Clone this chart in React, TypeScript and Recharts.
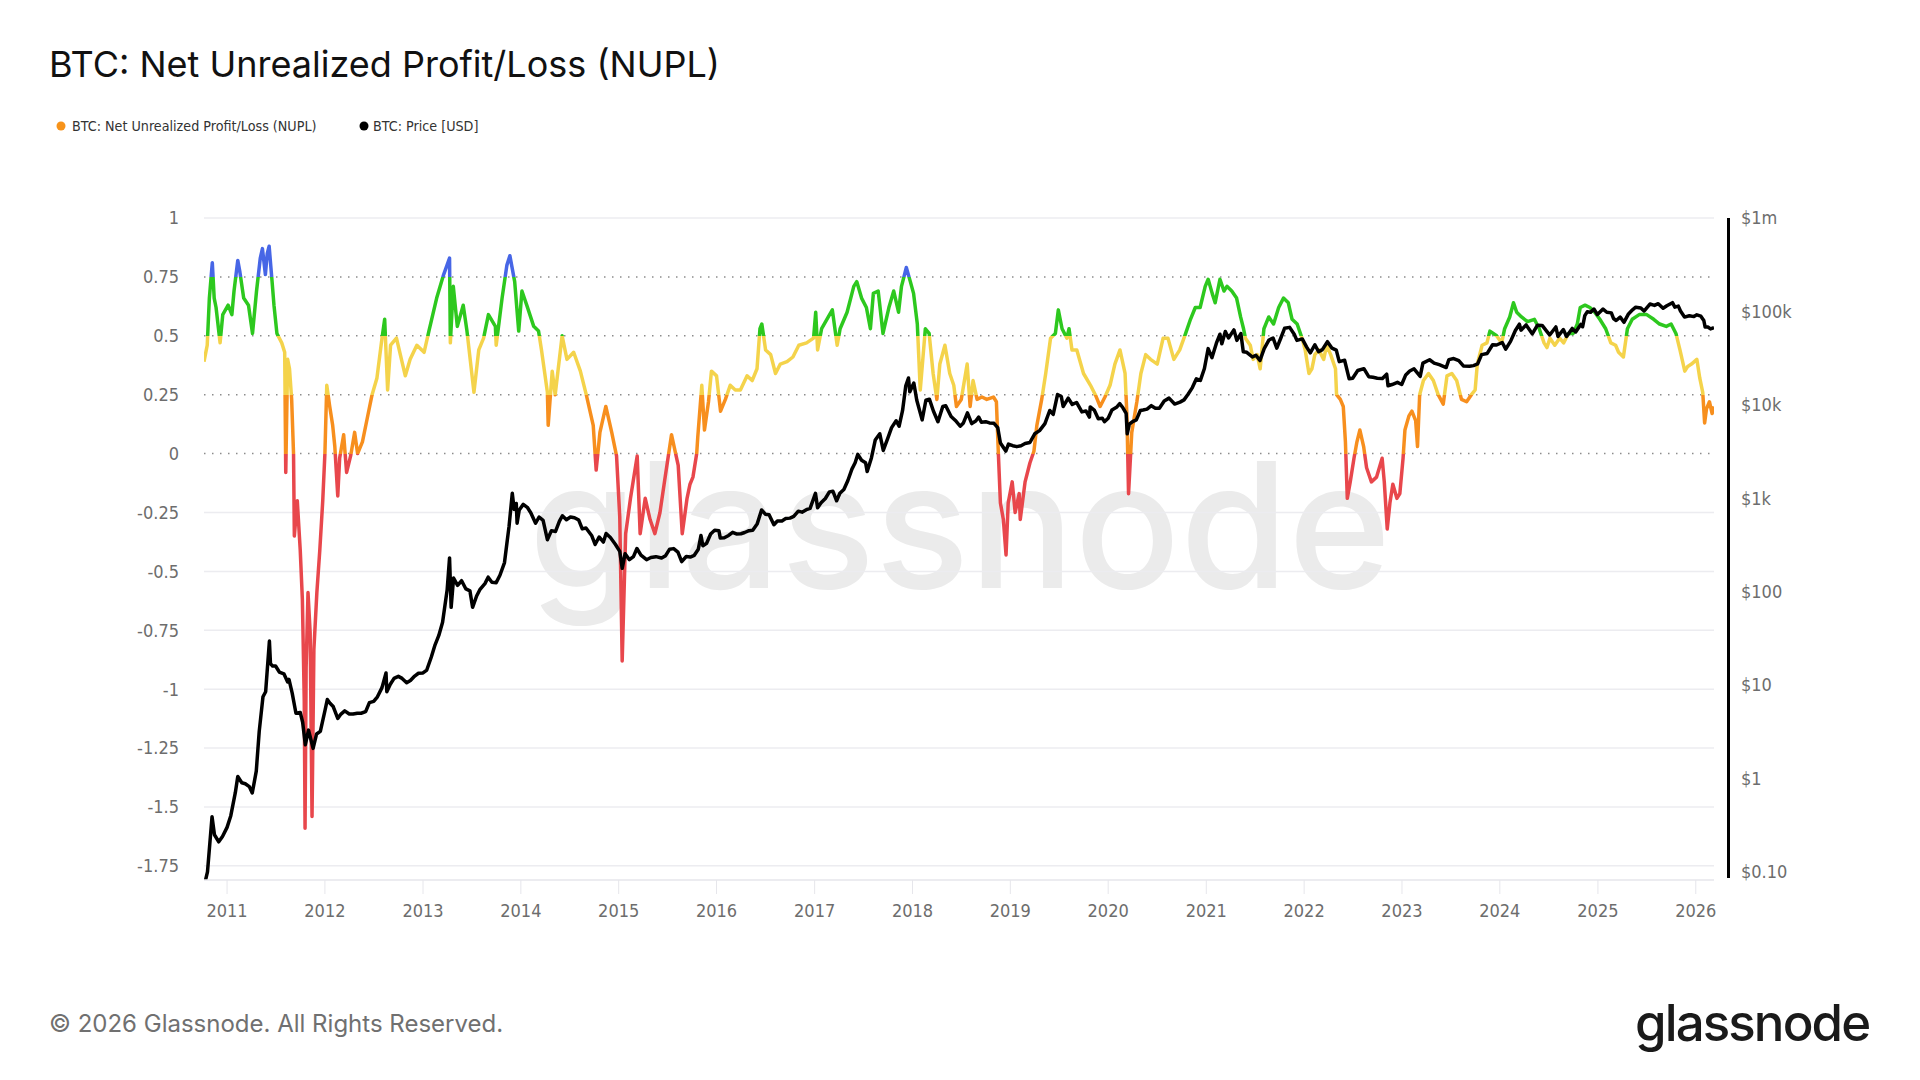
import React from "react";
import { LineChart, Line, XAxis, YAxis, ReferenceLine } from "recharts";

// Axis ticks
const yearTicks = [2011, 2012, 2013, 2014, 2015, 2016, 2017, 2018, 2019, 2020, 2021, 2022, 2023, 2024, 2025, 2026];
const nuplTicks = [1, 0.75, 0.5, 0.25, 0, -0.25, -0.5, -0.75, -1, -1.25, -1.5, -1.75];
const dottedLevels = [0.75, 0.5, 0.25, 0];
const solidLevels = [1, -0.25, -0.5, -0.75, -1, -1.25, -1.5, -1.75];
const priceTicks = [0.1, 1, 10, 100, 1000, 10000, 100000, 1000000];
const priceTickLabels = ["$0.10", "$1", "$10", "$100", "$1k", "$10k", "$100k", "$1m"];

// Zone thresholds for NUPL colouring (top to bottom)
const zoneThresholds = [0.75, 0.5, 0.25, 0];
const zoneColors = ["#4766e6", "#2dc81e", "#f4d34b", "#f78f1e", "#e8474c"];

// NUPL: [date, value]
const nuplSeries: [string, number][] = [
  ["2010-10-07", 0.39], ["2010-10-19", 0.46], ["2010-10-27", 0.66], ["2010-11-07", 0.81], ["2010-11-14", 0.66],
  ["2010-11-21", 0.62], ["2010-12-06", 0.47], ["2010-12-16", 0.59], ["2011-01-05", 0.63], ["2011-01-19", 0.59],
  ["2011-01-27", 0.69], ["2011-02-10", 0.82], ["2011-02-18", 0.77], ["2011-03-04", 0.66], ["2011-03-22", 0.63],
  ["2011-04-06", 0.51], ["2011-04-21", 0.69], ["2011-05-05", 0.83], ["2011-05-13", 0.87], ["2011-05-24", 0.76],
  ["2011-05-31", 0.85], ["2011-06-07", 0.88], ["2011-06-18", 0.73], ["2011-06-25", 0.63], ["2011-07-06", 0.51],
  ["2011-07-24", 0.47], ["2011-08-04", 0.43], ["2011-08-08", -0.08], ["2011-08-15", 0.4], ["2011-08-22", 0.36],
  ["2011-08-30", 0.23], ["2011-09-06", 0.0], ["2011-09-09", -0.35], ["2011-09-20", -0.2], ["2011-10-01", -0.41],
  ["2011-10-09", -0.62], ["2011-10-16", -1.05], ["2011-10-19", -1.59], ["2011-10-23", -0.91], ["2011-10-30", -0.59],
  ["2011-11-07", -0.76], ["2011-11-14", -1.54], ["2011-11-21", -0.83], ["2011-12-02", -0.59], ["2011-12-13", -0.41],
  ["2011-12-24", -0.2], ["2012-01-01", 0.0], ["2012-01-08", 0.29], ["2012-01-19", 0.2], ["2012-01-30", 0.12],
  ["2012-02-07", 0.03], ["2012-02-18", -0.18], ["2012-02-25", -0.02], ["2012-03-11", 0.08], ["2012-03-22", -0.08],
  ["2012-04-06", -0.01], ["2012-04-21", 0.09], ["2012-05-02", 0.0], ["2012-05-20", 0.05], ["2012-06-07", 0.15],
  ["2012-06-25", 0.25], ["2012-07-13", 0.32], ["2012-08-01", 0.49], ["2012-08-11", 0.57], ["2012-08-22", 0.27],
  ["2012-09-02", 0.46], ["2012-09-24", 0.49], ["2012-10-27", 0.33], ["2012-11-14", 0.4], ["2012-12-09", 0.46],
  ["2013-01-05", 0.43], ["2013-01-23", 0.52], ["2013-02-21", 0.66], ["2013-03-19", 0.76], ["2013-04-10", 0.83],
  ["2013-04-13", 0.47], ["2013-04-24", 0.71], ["2013-05-09", 0.54], ["2013-05-31", 0.63], ["2013-06-14", 0.52],
  ["2013-07-10", 0.26], ["2013-07-28", 0.44], ["2013-08-15", 0.49], ["2013-09-02", 0.59], ["2013-09-28", 0.54],
  ["2013-10-01", 0.46], ["2013-10-23", 0.66], ["2013-11-10", 0.8], ["2013-11-21", 0.84], ["2013-12-09", 0.73],
  ["2013-12-24", 0.52], ["2014-01-05", 0.69], ["2014-01-23", 0.63], ["2014-02-18", 0.54], ["2014-03-08", 0.52],
  ["2014-03-19", 0.44], ["2014-04-10", 0.26], ["2014-04-13", 0.12], ["2014-04-28", 0.35], ["2014-05-09", 0.25],
  ["2014-06-04", 0.5], ["2014-06-22", 0.4], ["2014-07-17", 0.43], ["2014-08-11", 0.35], ["2014-09-02", 0.25],
  ["2014-09-28", 0.12], ["2014-10-09", -0.07], ["2014-10-23", 0.09], ["2014-11-14", 0.2], ["2014-12-06", 0.09],
  ["2014-12-24", -0.01], ["2015-01-05", -0.27], ["2015-01-14", -0.88], ["2015-01-27", -0.34], ["2015-02-14", -0.19],
  ["2015-03-11", -0.01], ["2015-03-22", -0.34], ["2015-04-10", -0.19], ["2015-04-28", -0.28], ["2015-05-16", -0.34],
  ["2015-06-04", -0.25], ["2015-06-22", -0.11], ["2015-07-17", 0.08], ["2015-08-11", -0.05], ["2015-08-26", -0.34],
  ["2015-09-13", -0.19], ["2015-09-24", -0.13], ["2015-10-05", -0.1], ["2015-10-19", 0.0], ["2015-10-23", 0.07],
  ["2015-11-07", 0.29], ["2015-11-17", 0.1], ["2015-12-02", 0.22], ["2015-12-13", 0.35], ["2016-01-01", 0.33],
  ["2016-01-16", 0.18], ["2016-02-03", 0.23], ["2016-02-21", 0.29], ["2016-03-11", 0.27], ["2016-03-30", 0.27],
  ["2016-04-24", 0.33], ["2016-05-13", 0.31], ["2016-05-31", 0.36], ["2016-06-11", 0.53], ["2016-06-18", 0.55],
  ["2016-07-02", 0.44], ["2016-07-21", 0.42], ["2016-08-08", 0.34], ["2016-08-26", 0.38], ["2016-09-20", 0.39],
  ["2016-10-12", 0.41], ["2016-11-03", 0.46], ["2016-12-02", 0.47], ["2016-12-28", 0.49], ["2017-01-05", 0.6],
  ["2017-01-12", 0.44], ["2017-01-27", 0.53], ["2017-02-21", 0.58], ["2017-03-08", 0.61], ["2017-03-26", 0.46],
  ["2017-04-06", 0.53], ["2017-05-02", 0.6], ["2017-05-27", 0.71], ["2017-06-07", 0.73], ["2017-06-25", 0.66],
  ["2017-07-13", 0.62], ["2017-07-28", 0.53], ["2017-08-08", 0.68], ["2017-08-26", 0.69], ["2017-09-13", 0.51],
  ["2017-10-05", 0.62], ["2017-10-23", 0.69], ["2017-11-10", 0.6], ["2017-11-21", 0.71], ["2017-12-09", 0.79],
  ["2017-12-24", 0.73], ["2018-01-05", 0.68], ["2018-01-19", 0.55], ["2018-01-30", 0.27], ["2018-02-18", 0.53],
  ["2018-03-04", 0.51], ["2018-03-19", 0.34], ["2018-04-02", 0.23], ["2018-04-13", 0.38], ["2018-05-02", 0.46],
  ["2018-05-20", 0.34], ["2018-06-04", 0.29], ["2018-06-14", 0.2], ["2018-07-02", 0.23], ["2018-07-24", 0.38],
  ["2018-08-04", 0.2], ["2018-08-15", 0.31], ["2018-08-30", 0.23], ["2018-09-17", 0.24], ["2018-10-05", 0.23],
  ["2018-10-30", 0.24], ["2018-11-10", 0.22], ["2018-11-17", 0.01], ["2018-11-25", -0.21], ["2018-12-06", -0.28],
  ["2018-12-16", -0.43], ["2018-12-24", -0.21], ["2019-01-08", -0.12], ["2019-01-19", -0.25], ["2019-02-03", -0.17],
  ["2019-02-07", -0.28], ["2019-02-25", -0.12], ["2019-03-15", -0.04], ["2019-03-30", 0.01], ["2019-04-10", 0.12],
  ["2019-04-28", 0.23], ["2019-05-13", 0.34], ["2019-05-31", 0.49], ["2019-06-18", 0.51], ["2019-06-29", 0.61],
  ["2019-07-13", 0.53], ["2019-07-31", 0.49], ["2019-08-08", 0.53], ["2019-08-19", 0.44], ["2019-09-06", 0.44],
  ["2019-10-01", 0.34], ["2019-10-27", 0.29], ["2019-11-14", 0.25], ["2019-12-02", 0.2], ["2019-12-20", 0.24],
  ["2020-01-08", 0.29], ["2020-01-26", 0.38], ["2020-02-14", 0.44], ["2020-03-04", 0.34], ["2020-03-11", 0.16],
  ["2020-03-17", -0.17], ["2020-03-29", 0.09], ["2020-04-17", 0.22], ["2020-05-02", 0.34], ["2020-05-20", 0.42],
  ["2020-06-07", 0.4], ["2020-07-02", 0.38], ["2020-07-24", 0.49], ["2020-08-11", 0.49], ["2020-09-02", 0.4],
  ["2020-09-24", 0.44], ["2020-10-16", 0.51], ["2020-11-03", 0.57], ["2020-11-21", 0.62], ["2020-12-09", 0.62],
  ["2020-12-28", 0.71], ["2021-01-08", 0.74], ["2021-01-23", 0.68], ["2021-02-03", 0.64], ["2021-02-21", 0.74],
  ["2021-03-08", 0.69], ["2021-03-19", 0.71], ["2021-04-06", 0.69], ["2021-04-24", 0.66], ["2021-05-09", 0.58],
  ["2021-05-20", 0.53], ["2021-05-27", 0.49], ["2021-06-14", 0.46], ["2021-06-25", 0.4], ["2021-07-10", 0.42],
  ["2021-07-21", 0.36], ["2021-08-04", 0.53], ["2021-08-22", 0.58], ["2021-09-09", 0.55], ["2021-09-28", 0.62],
  ["2021-10-16", 0.66], ["2021-11-03", 0.64], ["2021-11-17", 0.57], ["2021-12-06", 0.55], ["2021-12-24", 0.49],
  ["2022-01-05", 0.44], ["2022-01-19", 0.34], ["2022-01-30", 0.36], ["2022-02-10", 0.42], ["2022-02-25", 0.44],
  ["2022-03-15", 0.4], ["2022-03-26", 0.46], ["2022-04-10", 0.42], ["2022-04-28", 0.36], ["2022-05-02", 0.25],
  ["2022-05-16", 0.23], ["2022-05-27", 0.2], ["2022-06-04", 0.05], ["2022-06-11", -0.19], ["2022-06-22", -0.12],
  ["2022-07-06", -0.02], ["2022-07-17", 0.05], ["2022-07-28", 0.1], ["2022-08-11", 0.03], ["2022-08-22", -0.06],
  ["2022-09-09", -0.12], ["2022-09-28", -0.1], ["2022-10-19", -0.02], ["2022-10-27", -0.12], ["2022-11-07", -0.32],
  ["2022-11-17", -0.21], ["2022-11-28", -0.13], ["2022-12-13", -0.19], ["2022-12-24", -0.17], ["2023-01-05", -0.02],
  ["2023-01-12", 0.1], ["2023-01-27", 0.16], ["2023-02-07", 0.18], ["2023-02-21", 0.14], ["2023-02-28", 0.03],
  ["2023-03-08", 0.25], ["2023-03-22", 0.31], ["2023-04-10", 0.34], ["2023-04-28", 0.31], ["2023-05-16", 0.25],
  ["2023-06-04", 0.21], ["2023-06-18", 0.33], ["2023-07-06", 0.34], ["2023-07-24", 0.31], ["2023-08-11", 0.23],
  ["2023-08-30", 0.22], ["2023-09-17", 0.25], ["2023-10-01", 0.27], ["2023-10-09", 0.38], ["2023-10-27", 0.46],
  ["2023-11-14", 0.47], ["2023-11-25", 0.52], ["2023-12-20", 0.5], ["2024-01-08", 0.47], ["2024-01-19", 0.53],
  ["2024-02-07", 0.58], ["2024-02-21", 0.64], ["2024-03-04", 0.6], ["2024-03-22", 0.58], ["2024-04-13", 0.56],
  ["2024-05-09", 0.57], ["2024-05-27", 0.53], ["2024-06-14", 0.47], ["2024-06-25", 0.45], ["2024-07-06", 0.49],
  ["2024-07-24", 0.46], ["2024-08-11", 0.49], ["2024-08-26", 0.47], ["2024-09-13", 0.51], ["2024-10-01", 0.51],
  ["2024-10-16", 0.55], ["2024-10-27", 0.62], ["2024-11-14", 0.63], ["2024-12-02", 0.62], ["2024-12-20", 0.6],
  ["2025-01-08", 0.57], ["2025-01-30", 0.53], ["2025-02-18", 0.47], ["2025-03-08", 0.46], ["2025-03-19", 0.43],
  ["2025-04-06", 0.41], ["2025-04-21", 0.53], ["2025-05-09", 0.57], ["2025-06-04", 0.59], ["2025-07-02", 0.59],
  ["2025-07-28", 0.57], ["2025-08-19", 0.55], ["2025-09-13", 0.54], ["2025-10-01", 0.55], ["2025-10-19", 0.51],
  ["2025-11-03", 0.44], ["2025-11-21", 0.35], ["2025-12-02", 0.37], ["2025-12-16", 0.38], ["2026-01-05", 0.4],
  ["2026-01-16", 0.32], ["2026-01-27", 0.26], ["2026-02-03", 0.13], ["2026-02-10", 0.19], ["2026-02-21", 0.22],
  ["2026-03-03", 0.17], ["2026-03-10", 0.2],
];

// BTC price in USD: [date, price]
const priceSeries: [string, number][] = [
  ["2010-10-07", 0.07], ["2010-10-20", 0.1], ["2010-11-06", 0.39], ["2010-11-15", 0.25], ["2010-12-01", 0.21],
  ["2010-12-15", 0.24], ["2011-01-01", 0.3], ["2011-01-15", 0.4], ["2011-02-01", 0.71], ["2011-02-10", 1.05],
  ["2011-02-25", 0.9], ["2011-03-10", 0.88], ["2011-03-25", 0.82], ["2011-04-05", 0.7], ["2011-04-20", 1.2],
  ["2011-05-01", 3.2], ["2011-05-15", 7.5], ["2011-05-25", 8.5], ["2011-06-08", 29.6], ["2011-06-12", 17],
  ["2011-06-20", 16], ["2011-07-01", 16], ["2011-07-15", 13.8], ["2011-08-01", 13.2], ["2011-08-15", 10.8],
  ["2011-08-20", 11.5], ["2011-09-01", 8.2], ["2011-09-15", 5.0], ["2011-10-01", 5.1], ["2011-10-10", 4.0],
  ["2011-10-20", 2.3], ["2011-11-01", 3.3], ["2011-11-18", 2.1], ["2011-12-01", 3.0], ["2011-12-15", 3.2],
  ["2012-01-01", 5.3], ["2012-01-10", 7.0], ["2012-01-20", 6.4], ["2012-02-01", 5.9], ["2012-02-18", 4.4],
  ["2012-03-01", 4.9], ["2012-03-15", 5.3], ["2012-04-01", 4.9], ["2012-04-15", 4.9], ["2012-05-01", 5.0],
  ["2012-05-15", 5.0], ["2012-06-01", 5.2], ["2012-06-15", 6.5], ["2012-07-01", 6.7], ["2012-07-15", 7.5],
  ["2012-08-01", 9.4], ["2012-08-16", 13.5], ["2012-08-19", 8.5], ["2012-09-01", 10.2], ["2012-09-15", 11.8],
  ["2012-10-01", 12.4], ["2012-10-15", 11.8], ["2012-11-01", 10.6], ["2012-11-15", 11.2], ["2012-12-01", 12.5],
  ["2012-12-15", 13.4], ["2013-01-01", 13.5], ["2013-01-15", 14.5], ["2013-02-01", 20], ["2013-02-15", 27],
  ["2013-03-01", 34], ["2013-03-15", 47], ["2013-04-01", 104], ["2013-04-10", 230], ["2013-04-16", 68],
  ["2013-04-25", 140], ["2013-05-10", 117], ["2013-05-25", 131], ["2013-06-10", 107], ["2013-06-25", 102],
  ["2013-07-05", 68], ["2013-07-20", 90], ["2013-08-01", 105], ["2013-08-20", 122], ["2013-09-01", 143],
  ["2013-09-15", 126], ["2013-10-01", 125], ["2013-10-15", 150], ["2013-11-01", 205], ["2013-11-10", 330],
  ["2013-11-18", 500], ["2013-11-30", 1130], ["2013-12-07", 760], ["2013-12-15", 880], ["2013-12-18", 540],
  ["2013-12-26", 750], ["2014-01-10", 860], ["2014-01-25", 800], ["2014-02-07", 700], ["2014-02-25", 540],
  ["2014-03-10", 630], ["2014-03-25", 580], ["2014-04-10", 360], ["2014-04-25", 450], ["2014-05-10", 440],
  ["2014-05-25", 570], ["2014-06-05", 650], ["2014-06-20", 590], ["2014-07-05", 630], ["2014-07-20", 620],
  ["2014-08-05", 585], ["2014-08-18", 470], ["2014-09-01", 480], ["2014-09-22", 400], ["2014-10-05", 320],
  ["2014-10-20", 385], ["2014-11-05", 340], ["2014-11-15", 420], ["2014-12-01", 380], ["2014-12-20", 320],
  ["2015-01-05", 270], ["2015-01-14", 178], ["2015-01-25", 255], ["2015-02-10", 220], ["2015-02-25", 237],
  ["2015-03-10", 290], ["2015-03-25", 246], ["2015-04-15", 220], ["2015-05-01", 232], ["2015-05-20", 237],
  ["2015-06-10", 229], ["2015-06-25", 243], ["2015-07-10", 285], ["2015-07-25", 289], ["2015-08-10", 265],
  ["2015-08-24", 210], ["2015-09-10", 238], ["2015-09-25", 235], ["2015-10-10", 245], ["2015-10-25", 285],
  ["2015-11-04", 400], ["2015-11-11", 310], ["2015-11-25", 330], ["2015-12-10", 415], ["2015-12-25", 455],
  ["2016-01-10", 448], ["2016-01-15", 375], ["2016-01-30", 378], ["2016-02-15", 400], ["2016-03-01", 432],
  ["2016-03-15", 415], ["2016-04-01", 417], ["2016-04-15", 430], ["2016-05-01", 450], ["2016-05-15", 455],
  ["2016-06-01", 535], ["2016-06-17", 750], ["2016-07-01", 675], ["2016-07-15", 665], ["2016-08-02", 520],
  ["2016-08-15", 570], ["2016-09-01", 572], ["2016-09-15", 606], ["2016-10-01", 613], ["2016-10-15", 640],
  ["2016-11-01", 728], ["2016-11-15", 710], ["2016-12-01", 755], ["2016-12-15", 780], ["2017-01-04", 1130],
  ["2017-01-12", 790], ["2017-01-25", 895], ["2017-02-10", 995], ["2017-02-25", 1170], ["2017-03-10", 1190],
  ["2017-03-24", 940], ["2017-04-05", 1130], ["2017-04-20", 1240], ["2017-05-05", 1550], ["2017-05-20", 2050],
  ["2017-06-01", 2400], ["2017-06-11", 2950], ["2017-06-25", 2550], ["2017-07-10", 2400], ["2017-07-16", 1930],
  ["2017-08-01", 2720], ["2017-08-15", 4200], ["2017-09-01", 4900], ["2017-09-14", 3250], ["2017-10-01", 4400],
  ["2017-10-15", 5700], ["2017-11-01", 6750], ["2017-11-12", 5900], ["2017-11-25", 8700], ["2017-12-07", 16000],
  ["2017-12-17", 19400], ["2017-12-22", 13800], ["2018-01-06", 17100], ["2018-01-17", 11200], ["2018-02-06", 6900],
  ["2018-02-20", 11200], ["2018-03-05", 11500], ["2018-03-20", 8600], ["2018-04-06", 6600], ["2018-04-24", 9600],
  ["2018-05-05", 9800], ["2018-05-25", 7500], ["2018-06-10", 6800], ["2018-06-28", 5900], ["2018-07-10", 6400],
  ["2018-07-25", 8200], ["2018-08-10", 6300], ["2018-08-25", 6700], ["2018-09-05", 7400], ["2018-09-15", 6500],
  ["2018-10-01", 6600], ["2018-10-15", 6400], ["2018-11-01", 6350], ["2018-11-15", 5700], ["2018-11-25", 3900],
  ["2018-12-15", 3200], ["2018-12-25", 3800], ["2019-01-10", 3650], ["2019-01-25", 3570], ["2019-02-10", 3650],
  ["2019-02-25", 3850], ["2019-03-15", 3950], ["2019-04-02", 4900], ["2019-04-20", 5300], ["2019-05-10", 6300],
  ["2019-05-28", 8700], ["2019-06-10", 7900], ["2019-06-26", 12900], ["2019-07-10", 12300], ["2019-07-17", 9600],
  ["2019-08-05", 11800], ["2019-08-20", 10100], ["2019-09-05", 10600], ["2019-09-25", 8400], ["2019-10-10", 8600],
  ["2019-10-23", 7400], ["2019-10-26", 9500], ["2019-11-10", 8800], ["2019-11-25", 7100], ["2019-12-10", 7200],
  ["2019-12-18", 6600], ["2020-01-01", 7200], ["2020-01-15", 8800], ["2020-02-01", 9400], ["2020-02-13", 10300],
  ["2020-02-25", 9300], ["2020-03-08", 8100], ["2020-03-12", 4900], ["2020-03-20", 6200], ["2020-04-01", 6600],
  ["2020-04-15", 6900], ["2020-04-30", 8700], ["2020-05-10", 8800], ["2020-05-25", 9000], ["2020-06-10", 9800],
  ["2020-06-25", 9200], ["2020-07-10", 9200], ["2020-07-28", 11000], ["2020-08-15", 11800], ["2020-09-05", 10200],
  ["2020-09-25", 10700], ["2020-10-10", 11300], ["2020-10-25", 13000], ["2020-11-10", 15300], ["2020-11-25", 19000],
  ["2020-12-10", 18300], ["2020-12-25", 24500], ["2021-01-08", 40000], ["2021-01-22", 32000], ["2021-02-08", 46000],
  ["2021-02-21", 57000], ["2021-02-28", 45000], ["2021-03-13", 61000], ["2021-03-25", 52000], ["2021-04-14", 63500],
  ["2021-04-25", 49000], ["2021-05-10", 58000], ["2021-05-19", 37000], ["2021-06-01", 36500], ["2021-06-22", 32500],
  ["2021-07-05", 34000], ["2021-07-20", 29800], ["2021-08-05", 40000], ["2021-08-23", 49500], ["2021-09-07", 52000],
  ["2021-09-21", 40500], ["2021-10-05", 51000], ["2021-10-20", 66000], ["2021-11-08", 67500], ["2021-11-25", 57000],
  ["2021-12-05", 49000], ["2021-12-25", 50800], ["2022-01-10", 41800], ["2022-01-24", 36000], ["2022-02-10", 44000],
  ["2022-02-24", 37000], ["2022-03-10", 39000], ["2022-03-29", 47400], ["2022-04-15", 40400], ["2022-05-01", 38500],
  ["2022-05-12", 29000], ["2022-06-01", 30000], ["2022-06-18", 19000], ["2022-07-01", 19300], ["2022-07-20", 23300],
  ["2022-08-12", 24400], ["2022-08-30", 20000], ["2022-09-15", 19700], ["2022-10-01", 19300], ["2022-10-20", 19100],
  ["2022-11-05", 21300], ["2022-11-10", 16000], ["2022-11-25", 16500], ["2022-12-15", 17400], ["2022-12-31", 16500],
  ["2023-01-15", 20900], ["2023-01-30", 23000], ["2023-02-15", 24300], ["2023-03-10", 20200], ["2023-03-20", 28000],
  ["2023-04-14", 30400], ["2023-05-01", 28000], ["2023-05-20", 26900], ["2023-06-15", 25100], ["2023-06-25", 30500],
  ["2023-07-13", 31300], ["2023-08-01", 29700], ["2023-08-18", 26100], ["2023-09-10", 25900], ["2023-09-25", 26300],
  ["2023-10-10", 27400], ["2023-10-25", 34500], ["2023-11-15", 35500], ["2023-12-05", 44000], ["2023-12-20", 43700],
  ["2024-01-10", 46500], ["2024-01-23", 39500], ["2024-02-10", 47800], ["2024-02-28", 62500], ["2024-03-14", 73000],
  ["2024-03-20", 63000], ["2024-04-08", 71600], ["2024-04-20", 64000], ["2024-05-01", 57500], ["2024-05-20", 71000],
  ["2024-06-07", 70800], ["2024-06-25", 60800], ["2024-07-05", 56000], ["2024-07-28", 68200], ["2024-08-05", 54000],
  ["2024-08-25", 64000], ["2024-09-06", 54000], ["2024-09-27", 65800], ["2024-10-10", 60300], ["2024-10-29", 72500],
  ["2024-11-05", 68500], ["2024-11-13", 90000], ["2024-11-22", 99000], ["2024-12-05", 98000], ["2024-12-17", 106000],
  ["2024-12-30", 92500], ["2025-01-20", 106000], ["2025-02-03", 98000], ["2025-02-20", 96500], ["2025-02-28", 84000],
  ["2025-03-10", 80000], ["2025-03-25", 87000], ["2025-04-08", 76500], ["2025-04-25", 94000], ["2025-05-10", 104000],
  ["2025-05-22", 111000], ["2025-06-10", 109000], ["2025-06-22", 101000], ["2025-07-14", 120000], ["2025-07-31", 116000],
  ["2025-08-14", 121000], ["2025-09-01", 108000], ["2025-09-15", 115000], ["2025-10-06", 124000], ["2025-10-15", 111000],
  ["2025-10-28", 114000], ["2025-11-05", 101000], ["2025-11-20", 87000], ["2025-12-08", 90000], ["2025-12-25", 88000],
  ["2026-01-05", 92000], ["2026-01-20", 89000], ["2026-01-31", 80000], ["2026-02-05", 68000], ["2026-02-15", 68000],
  ["2026-02-25", 65000], ["2026-03-10", 67000],
];

const toTime = (d: string) => Date.parse(d + "T00:00:00Z");

const nuplData = nuplSeries.map(([d, v]) => ({ t: toTime(d), v }));
const priceData = priceSeries.map(([d, v]) => ({ t: toTime(d), v }));
const xDomain: [number, number] = [nuplData[0].t, nuplData[nuplData.length - 1].t];
const xTicks = yearTicks.map((y) => Date.UTC(y, 0, 1));

// Gradient stops for the NUPL stroke, placed by value within the line's bounding box
const nuplMax = Math.max(...nuplSeries.map((p) => p[1]));
const nuplMin = Math.min(...nuplSeries.map((p) => p[1]));
const offsetOf = (v: number) => Math.min(1, Math.max(0, (nuplMax - v) / (nuplMax - nuplMin)));
const zoneStops: { offset: number; color: string }[] = [];
zoneColors.forEach((color, i) => {
  const start = i === 0 ? 0 : offsetOf(zoneThresholds[i - 1]);
  const end = i === zoneColors.length - 1 ? 1 : offsetOf(zoneThresholds[i]);
  zoneStops.push({ offset: start, color }, { offset: end, color });
});

const narrowFont = '"Liberation Sans Narrow", "DejaVu Sans Condensed", "Open Sans", sans-serif';
const tickStyle = { fill: "#6d6d6d", fontSize: 18, fontFamily: narrowFont };

const formatPrice = (v: number) => {
  const i = priceTicks.findIndex((p) => Math.abs(p - v) / p < 1e-6);
  return i >= 0 ? priceTickLabels[i] : "";
};

export default function App() {
  return (
    <div style={{ position: "absolute", left: 0, top: 0, width: 1920, height: 1080, background: "#ffffff", overflow: "hidden" }}>
      <svg width={1920} height={1080} style={{ position: "absolute", left: 0, top: 0 }}>
        <defs>
          <linearGradient id="nuplZones" x1="0" y1="0" x2="0" y2="1">
            {zoneStops.map((s, i) => (
              <stop key={i} offset={s.offset} stopColor={s.color} />
            ))}
          </linearGradient>
        </defs>
        <text x={49} y={77} fontFamily="Inter, sans-serif" fontSize={36} fill="#111111">
          BTC: Net Unrealized Profit/Loss (NUPL)
        </text>
        <circle cx={61} cy={126} r={4.5} fill="#f7931a" />
        <text x={72} y={131} fontFamily={narrowFont} fontSize={14.2} fill="#333333">
          BTC: Net Unrealized Profit/Loss (NUPL)
        </text>
        <circle cx={364} cy={126} r={4.5} fill="#000000" />
        <text x={373} y={131} fontFamily={narrowFont} fontSize={14.2} fill="#333333">
          BTC: Price [USD]
        </text>
        <text x={960} y={588} textAnchor="middle" fontFamily="Inter, sans-serif" fontWeight={500} fontSize={175} fill="#ebebeb">
          glassnode
        </text>
        <text x={49} y={1032} fontFamily="Inter, sans-serif" fontSize={24} fill="#707070">
          © 2026 Glassnode. All Rights Reserved.
        </text>
        <text x={1635} y={1041} fontFamily="Inter, sans-serif" fontWeight={500} fontSize={51} fill="#1a1a1a" letterSpacing={-1.9}>
          glassnode
        </text>
      </svg>
      <div style={{ position: "absolute", left: 0, top: 0 }}>
        <LineChart width={1920} height={1080} margin={{ top: 218, right: 106, bottom: 160, left: 124 }}>
          <XAxis
            dataKey="t"
            type="number"
            domain={xDomain}
            ticks={xTicks}
            allowDataOverflow
            tickFormatter={(t: number) => String(new Date(t).getUTCFullYear())}
            height={40}
            axisLine={{ stroke: "#e6e6eb", strokeWidth: 1.5 }}
            tickLine={{ stroke: "#e6e6eb" }}
            tickSize={14}
            tickMargin={10}
            tick={tickStyle}
          />
          <YAxis
            yAxisId="nupl"
            orientation="left"
            domain={[-1.81, 1]}
            ticks={nuplTicks}
            allowDataOverflow
            width={80}
            axisLine={false}
            tickLine={false}
            tickSize={0}
            tickMargin={25}
            tick={tickStyle}
          />
          <YAxis
            yAxisId="price"
            orientation="right"
            scale="log"
            domain={[0.082, 1000000]}
            ticks={priceTicks}
            allowDataOverflow
            width={100}
            axisLine={false}
            tickLine={false}
            tickSize={0}
            tickMargin={27}
            tickFormatter={formatPrice}
            tick={tickStyle}
          />
          {solidLevels.map((v) => (
            <ReferenceLine key={"s" + v} yAxisId="nupl" y={v} stroke="#ececf0" strokeWidth={1.5} />
          ))}
          {dottedLevels.map((v) => (
            <ReferenceLine key={"d" + v} yAxisId="nupl" y={v} stroke="#8c8c8c" strokeWidth={1.5} strokeDasharray="1.5 6.5" />
          ))}
          <Line
            data={nuplData}
            yAxisId="nupl"
            dataKey="v"
            type="linear"
            stroke="url(#nuplZones)"
            strokeWidth={3.5}
            strokeLinejoin="round"
            dot={false}
            activeDot={false}
            isAnimationActive={false}
          />
          <Line
            data={priceData}
            yAxisId="price"
            dataKey="v"
            type="linear"
            stroke="#000000"
            strokeWidth={3.5}
            strokeLinejoin="round"
            dot={false}
            activeDot={false}
            isAnimationActive={false}
          />
        </LineChart>
      </div>
      <div style={{ position: "absolute", left: 1727, top: 218, width: 3, height: 660, background: "#000000" }} />
    </div>
  );
}
